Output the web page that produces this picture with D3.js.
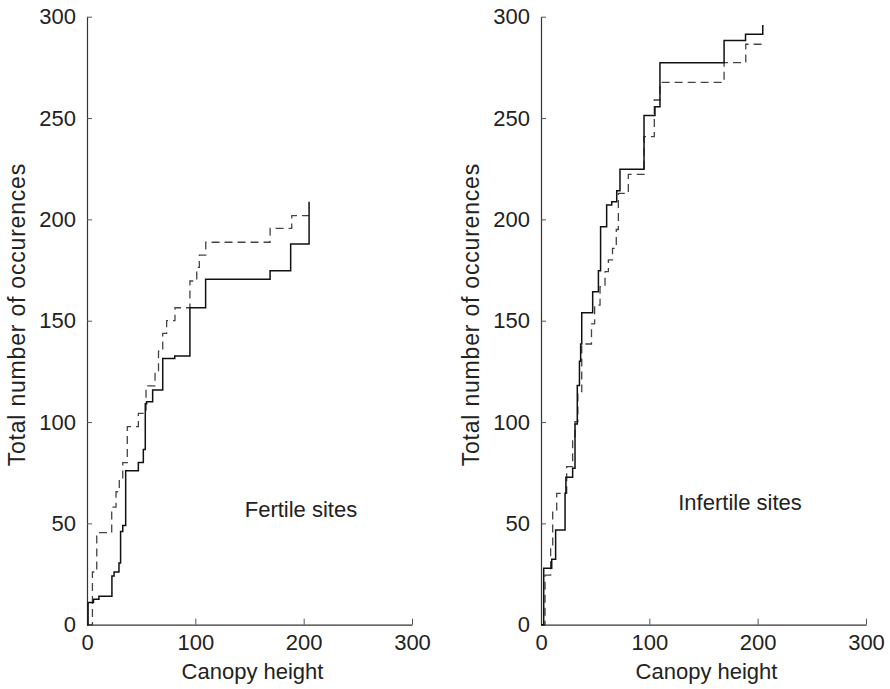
<!DOCTYPE html>
<html>
<head>
<meta charset="utf-8">
<script src="https://cdn.jsdelivr.net/npm/d3@7"></script>
<style>
  body { margin: 0; background: #fff; }
  text { font-family: "Liberation Sans", Arial, sans-serif; fill: #222; }
</style>
</head>
<body>
<div class="chart"></div>
<script>
// cumulative occurrences vs canopy height, [height, total]
var fertileSolid = [[0,0],[1,11],[6,12.5],[11,14],[23,24],[25,26],[29.5,30.5],[31,46],[33,49],[35.7,76],
  [47.4,80],[52,86.5],[53.8,109],[55,110],[60.6,115.8],[69.9,131.4],[81,132.6],[95,156.4],
  [109.5,170.4],[169,174.6],[188,187.8],[205,208.7]];
var fertileDashed = [[0,0],[5,26],[9,45.4],[22.8,58],[26.8,65.6],[29.8,71.7],[33,80],[37.2,97.7],
  [47.4,104.3],[54.5,117.8],[62.8,124],[66,135],[69.9,143.7],[73.5,150],[81.2,156.4],[95,169.6],
  [101.3,176.3],[103.7,182.4],[109.6,188.7],[169,195.6],[189,201.8],[205,201.8]];
var infertileSolid = [[0,0],[2.5,27.8],[9.9,32.3],[13.5,46.7],[22.2,64.8],[23,72.7],[29.2,77.2],
  [31.4,99],[33.5,118],[35.5,130],[36.6,138.5],[37.6,153.9],[47.7,164.3],[53,174.7],[55,196.4],
  [60.6,207.1],[65.3,208.7],[69.9,214.1],[72.9,224.7],[95.1,251.2],[105.2,255.6],[109.8,277.3],
  [169,288.2],[188.8,291.4],[204.7,295.9]];
var infertileDashed = [[0,0],[3.7,24.5],[8.9,37.7],[10.8,56.6],[14.5,64.8],[23.7,78],[29.2,92.8],
  [31.4,100.2],[34,115],[37.6,138.5],[46.6,148.4],[49.5,157.7],[54.5,166.8],[59.1,174.2],
  [62.2,180],[66,185.7],[69.5,195],[71.4,212.8],[80.6,222.2],[95.1,240.8],[104.6,258.9],
  [109.8,267.6],[169,277.3],[189,286.4],[204.7,286.4]];

var xTicks = [0, 100, 200, 300];
var yTicks = [0, 50, 100, 150, 200, 250, 300];
var panelLabels = ["Fertile sites", "Infertile sites"];

var svgWidth = 890;
var svgHeight = 689;

var svg = d3.select(".chart")
  .append("svg")
  .attr("width", svgWidth)
  .attr("height", svgHeight);

var height = 608;
var width = 325;

var xScale = d3.scaleLinear().domain([0, 300]).range([0, width]);
var yScale = d3.scaleLinear().domain([0, 300]).range([height, 0]);

var line = d3.line()
  .x(d => xScale(d[0]))
  .y(d => yScale(d[1]))
  .curve(d3.curveStepAfter);

function drawPanel(left, solid, dashed, label, labelX, labelY) {
  var g = svg.append("g")
    .attr("transform", `translate(${left}, 16.7)`);

  // axes, ticks pointing inward
  var xAxis = d3.axisBottom(xScale).tickValues(xTicks).tickSizeInner(-6).tickSizeOuter(0).tickPadding(10);
  var yAxis = d3.axisLeft(yScale).tickValues(yTicks).tickSizeInner(-5).tickSizeOuter(0).tickPadding(11);

  var gx = g.append("g")
    .attr("transform", `translate(0, ${height})`)
    .call(xAxis);
  var gy = g.append("g").call(yAxis);

  [gx, gy].forEach(function(a) {
    a.select(".domain").attr("stroke", "#333").attr("stroke-width", 1.2);
    a.selectAll(".tick line").attr("stroke", "#555");
    a.selectAll("text").attr("font-size", 22).attr("fill", "#222")
      .attr("font-family", "Liberation Sans, Arial, sans-serif");
  });

  g.append("text")
    .attr("x", width / 2 + 3)
    .attr("y", height + 54)
    .attr("text-anchor", "middle")
    .attr("font-size", 22)
    .text("Canopy height");

  g.append("text")
    .attr("transform", `translate(${-62}, ${height / 2 - 6}) rotate(-90)`)
    .attr("text-anchor", "middle")
    .attr("font-size", 23)
    .attr("letter-spacing", 0.8)
    .text("Total number of occurences");

  g.append("path")
    .datum(dashed)
    .attr("d", line)
    .attr("fill", "none")
    .attr("stroke", "#444")
    .attr("stroke-width", 1.3)
    .attr("stroke-dasharray", "8,5");

  g.append("path")
    .datum(solid)
    .attr("d", line)
    .attr("fill", "none")
    .attr("stroke", "#111")
    .attr("stroke-width", 1.5);

  g.append("text")
    .attr("x", xScale(labelX))
    .attr("y", yScale(labelY))
    .attr("text-anchor", "middle")
    .attr("font-size", 22)
    .text(label);
}

drawPanel(87, fertileSolid, fertileDashed, panelLabels[0], 197.5, 53);
drawPanel(541, infertileSolid, infertileDashed, panelLabels[1], 183.7, 56.5);
</script>
</body>
</html>
